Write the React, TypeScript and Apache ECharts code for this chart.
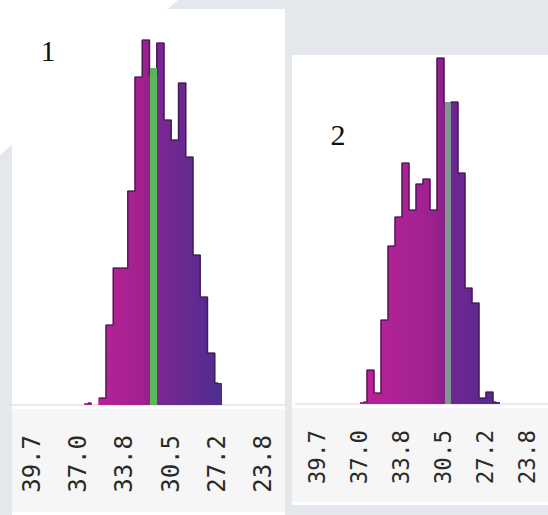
import React, { useEffect, useRef } from "react";
import * as echarts from "echarts";

// Tick labels shared by both histograms (left to right)
const tickLabels = ["39.7", "37.0", "33.8", "30.5", "27.2", "23.8"];

// Histogram counts, one value per bin, left to right
const countsA = [2, 0, 7, 80, 137, 137, 214, 328, 365, 330, 362, 285, 265, 322, 248, 150, 108, 52, 22];
const countsB = [2, 34, 11, 84, 158, 187, 241, 194, 220, 225, 194, 346, 300, 302, 231, 116, 101, 6, 12, 2];

// Reference marker drawn over each histogram: bin index and height
const markerA = { bin: 9, value: 337 };
const markerB = { bin: 12, value: 302 };

const panelTitles = ["1", "2"];

const Y_MAX = 370;

const binNames = (n: number) => Array.from({ length: n }, (_, i) => String(i + 1));

function buildOption() {
  const gradA = new echarts.graphic.LinearGradient(
    84,
    0,
    222,
    0,
    [
      { offset: 0, color: "#bd2399" },
      { offset: 0.42, color: "#a3218f" },
      { offset: 0.5, color: "#8c2088" },
      { offset: 0.54, color: "#7a2792" },
      { offset: 1, color: "#4d2d8f" },
    ],
    true
  );
  const gradB = new echarts.graphic.LinearGradient(
    360,
    0,
    500,
    0,
    [
      { offset: 0, color: "#bb2399" },
      { offset: 0.5, color: "#a02190" },
      { offset: 0.6, color: "#8a2189" },
      { offset: 0.65, color: "#6f2791" },
      { offset: 1, color: "#53298b" },
    ],
    true
  );

  const labelAxis = (gridIndex: number, margin: number, fontSize: number) => ({
    type: "category",
    gridIndex,
    data: tickLabels,
    boundaryGap: true,
    axisLine: { show: true, lineStyle: { color: "#e2e2e2", width: 1.5 } },
    axisTick: { show: false },
    splitLine: { show: false },
    axisLabel: {
      interval: 0,
      rotate: 90,
      margin,
      fontFamily: "DejaVu Sans Mono",
      fontSize,
      color: "#2a2a2a",
    },
  });

  const binAxis = (gridIndex: number, n: number) => ({
    type: "category",
    gridIndex,
    data: binNames(n),
    boundaryGap: true,
    show: false,
  });

  const yAxis = (gridIndex: number) => ({
    type: "value",
    gridIndex,
    min: 0,
    max: Y_MAX,
    show: false,
  });

  const histogram = (
    axisIndex: number,
    counts: number[],
    color: any,
    marker: { bin: number; value: number },
    markerColor: string,
    markerWidth: number
  ) => [
    {
      type: "bar",
      xAxisIndex: axisIndex,
      yAxisIndex: axisIndex,
      data: counts,
      barWidth: "112%",
      itemStyle: { color },
      z: 2,
      markLine: {
        silent: true,
        symbol: ["none", "none"],
        label: { show: false },
        lineStyle: { color: markerColor, width: markerWidth, type: "solid", opacity: 1 },
        emphasis: { disabled: true },
        data: [[{ coord: [marker.bin, 0] }, { coord: [marker.bin, marker.value] }]],
      },
    },
    {
      type: "line",
      xAxisIndex: axisIndex,
      yAxisIndex: axisIndex,
      step: "middle",
      data: counts.map((v) => (v > 0 ? v : "-")),
      showSymbol: false,
      symbol: "none",
      lineStyle: { color: "rgba(68,20,78,0.85)", width: 1.5 },
      z: 3,
      silent: true,
    },
  ];

  return {
    animation: false,
    backgroundColor: "#e4e8ec",
    grid: [
      { left: 8.9, width: 277.2, top: 35, height: Y_MAX },
      { left: 84.25, width: 137.75, top: 35, height: Y_MAX },
      { left: 295.7, width: 255.6, top: 34, height: Y_MAX },
      { left: 360, width: 140, top: 34, height: Y_MAX },
    ],
    xAxis: [
      labelAxis(0, 30, 24),
      binAxis(1, countsA.length),
      labelAxis(2, 26, 22.5),
      binAxis(3, countsB.length),
    ],
    yAxis: [yAxis(0), yAxis(1), yAxis(2), yAxis(3)],
    series: [
      ...histogram(1, countsA, gradA, markerA, "#5cb65a", 7),
      ...histogram(3, countsB, gradB, markerB, "#7f9792", 6),
    ],
    graphic: [
      {
        type: "polygon",
        z: -10,
        shape: { points: [[0, 0], [178, 0], [0, 155]] },
        style: { fill: "#ffffff" },
      },
      { type: "rect", z: -10, shape: { x: 12, y: 9, width: 273, height: 506 }, style: { fill: "#ffffff" } },
      { type: "rect", z: -10, shape: { x: 292, y: 55, width: 256, height: 450 }, style: { fill: "#ffffff" } },
      { type: "rect", z: -9, shape: { x: 12, y: 409, width: 273, height: 103 }, style: { fill: "#f6f6f6" } },
      { type: "rect", z: -9, shape: { x: 292, y: 408, width: 256, height: 94 }, style: { fill: "#f6f6f6" } },
      {
        type: "text",
        z: 10,
        x: 48,
        y: 50,
        style: {
          text: panelTitles[0],
          font: "30px 'Liberation Serif'",
          fill: "#111111",
          textAlign: "center",
          textVerticalAlign: "middle",
        },
      },
      {
        type: "text",
        z: 10,
        x: 338,
        y: 134,
        style: {
          text: panelTitles[1],
          font: "30px 'Liberation Serif'",
          fill: "#111111",
          textAlign: "center",
          textVerticalAlign: "middle",
        },
      },
    ],
  };
}

export default function App() {
  const ref = useRef<HTMLDivElement>(null);

  useEffect(() => {
    if (!ref.current) return;
    const chart = echarts.init(ref.current, undefined, { renderer: "svg" });
    chart.setOption(buildOption() as any);
    return () => chart.dispose();
  }, []);

  return (
    <div
      ref={ref}
      style={{ position: "fixed", left: 0, top: 0, width: 548, height: 515 }}
    />
  );
}
